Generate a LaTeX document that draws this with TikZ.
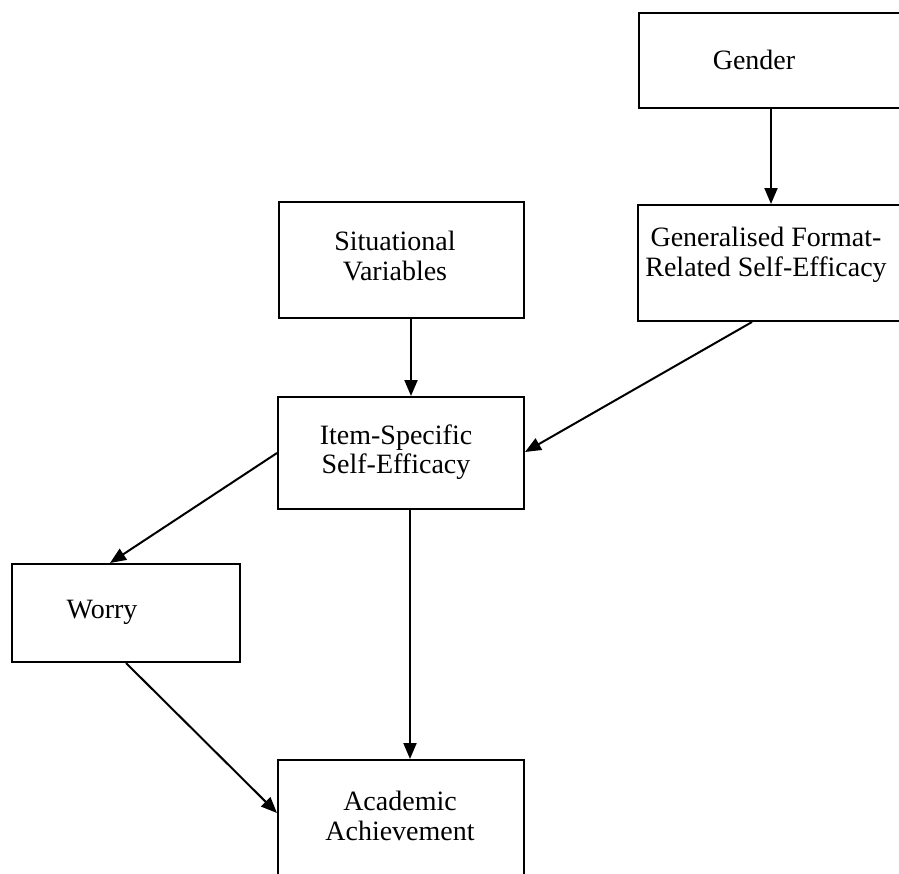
\documentclass[tikz,border=0pt]{standalone}
\usepackage{fontspec}
\setmainfont{Liberation Serif}
\usetikzlibrary{arrows.meta}
\tikzset{
  box/.style={draw=black, line width=2pt, fill=none, inner sep=0pt, anchor=north west},
  txt/.style={font=\fontsize{28}{29.5}\selectfont, align=center, inner sep=0pt},
  arr/.style={draw=black, line width=2pt, -{Triangle[length=16pt,width=13pt]}}
}
\begin{document}
\begin{tikzpicture}[x=1pt,y=-1pt]
\useasboundingbox (0,0) rectangle (899,873);
\clip (0,0) rectangle (899,873);
\fill[white] (0,0) rectangle (899,873);
% boxes
\node[box, minimum width=277pt, minimum height=95pt] (gender) at (638,12) {};
\node[box, minimum width=278pt, minimum height=116pt] (genfmt) at (637,204) {};
\node[box, minimum width=245pt, minimum height=116pt] (sit) at (278,201) {};
\node[box, minimum width=246pt, minimum height=112pt] (item) at (277,396) {};
\node[box, minimum width=228pt, minimum height=98pt] (worry) at (11,563) {};
\node[box, minimum width=246pt, minimum height=140pt] (acad) at (277,759) {};
% texts
\node[txt] (tgender) at (754,60) {Gender};
\node[txt] (tgenfmt) at (766,255) {Generalised Format-\\Related Self-Efficacy};
\node[txt] (tsit) at (395,256) {Situational\\Variables};
\node[txt] (titem) at (396,452) {Item-Specific\\Self-Efficacy};
\node[txt] (tworry) at (102,612) {Worry};
\node[txt] (tacad) at (400,816) {Academic\\Achievement};
% connectors
\draw[arr] (gender.south -| 771,0) -- (genfmt.north -| 771,0);
\draw[arr] (sit.south -| 411,0) -- (item.north -| 411,0);
\draw[arr] (genfmt.south -| 752,0) -- (item.east |- 0,452);
\draw[arr] (item.west |- 0,453) -- (worry.north -| 110,0);
\draw[arr] (item.south -| 410,0) -- (acad.north -| 410,0);
\draw[arr] (worry.south -| 126,0) -- (acad.west |- 0,813);
\end{tikzpicture}
\end{document}
